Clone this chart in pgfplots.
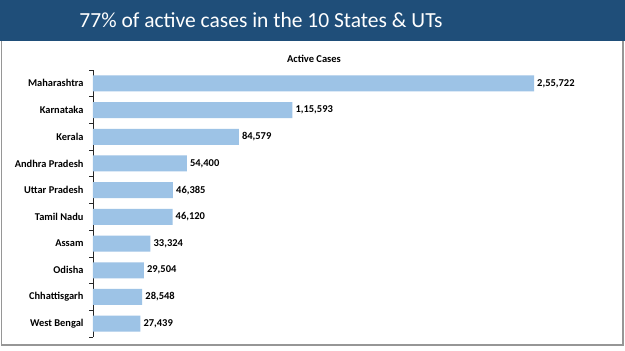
\documentclass[border=0pt]{standalone}
\usepackage{pgfplots}
\usepackage{pgfplotstable}
\pgfplotsset{compat=1.18}
\usepackage{fontspec}
\setmainfont{Carlito}
\newfontfamily\titlefont{Carlito}
\definecolor{banner}{RGB}{31,78,121}
\definecolor{barblue}{RGB}{157,195,230}
\definecolor{framegray}{RGB}{150,150,150}

\pgfplotstableread{
x y lab
255722 0 {2,55,722}
115593 1 {1,15,593}
84579 2 {84,579}
54400 3 {54,400}
46385 4 {46,385}
46120 5 {46,120}
33324 6 {33,324}
29504 7 {29,504}
28548 8 {28,548}
27439 9 {27,439}
}\data

\begin{document}
\begin{tikzpicture}
\path[use as bounding box] (0pt,0pt) rectangle (625pt,351pt);
\fill[white] (0pt,0pt) rectangle (625pt,351pt);
\draw[framegray, line width=1.2pt] (1.5pt,312pt) -- (1.5pt,6pt) -- (623pt,6pt) -- (623pt,312pt);
\fill[banner] (0pt,310pt) rectangle (625pt,351pt);
\node[white, font=\titlefont\fontsize{21.5}{26}\selectfont] at (261pt,331pt) {77\% of active cases in the 10 States \& UTs};
\node[font=\bfseries\fontsize{10.5}{12}\selectfont] at (314pt,292pt) {Active Cases};
\begin{axis}[
  at={(93pt,14pt)}, anchor=south west,
  scale only axis, width=517.4pt, height=267pt,
  xmin=0, xmax=300000, ymin=-0.5, ymax=9.5,
  y dir=reverse,
  axis x line=none,
  axis y line*=left,
  y axis line style={black!85, line width=0.8pt},
  ytick={0,...,9},
  yticklabels={Maharashtra,Karnataka,Kerala,Andhra Pradesh,Uttar Pradesh,Tamil Nadu,Assam,Odisha,Chhattisgarh,West Bengal},
  minor ytick={-0.5,0.5,...,9.5},
  major tick length=0pt,
  minor tick length=3.5pt,
  tick align=outside,
  minor tick style={black!85, line width=0.8pt},
  yticklabel style={font=\bfseries\fontsize{10.4}{12}\selectfont, xshift=-6pt},
  clip=false,
  xbar, bar width=16pt,
  point meta=explicit symbolic,
  nodes near coords,
  nodes near coords style={font=\bfseries\fontsize{10.5}{12}\selectfont, anchor=west, inner sep=1pt, xshift=2pt, black},
]
\addplot[fill=barblue, draw=none] table[x=x, y=y, meta=lab] {\data};
\end{axis}
\end{tikzpicture}
\end{document}
